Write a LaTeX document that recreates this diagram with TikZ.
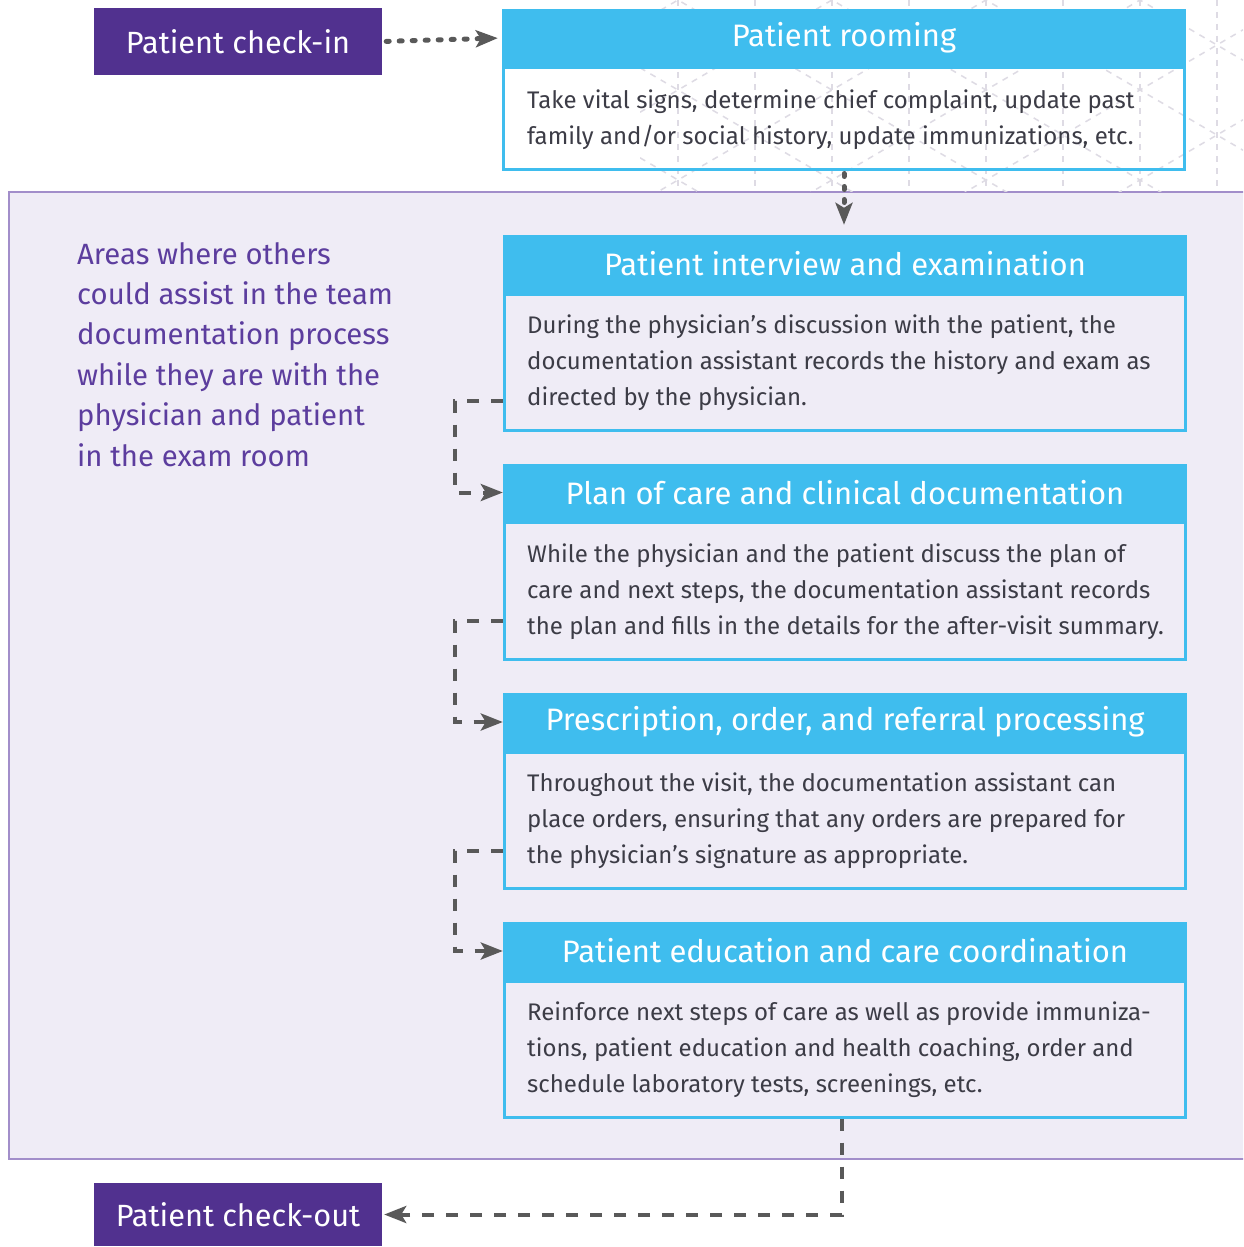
\documentclass[tikz,border=0pt]{standalone}
\usepackage{fontspec}
\setmainfont{Fira Sans}
\usetikzlibrary{arrows.meta,calc}
\definecolor{boxpurple}{HTML}{51318F}
\definecolor{hblue}{HTML}{3FBDEE}
\definecolor{regfill}{HTML}{EFECF6}
\definecolor{regline}{HTML}{A28ECA}
\definecolor{lefttext}{HTML}{5C3D9E}
\definecolor{bodytext}{HTML}{3C3C46}
\definecolor{cgray}{HTML}{595959}
\definecolor{patgray}{HTML}{DEDBE4}
\begin{document}
\begin{tikzpicture}[x=1pt,y=-1pt,
  endbox/.style={rectangle, fill=boxpurple, text=white, inner sep=0pt,
    minimum width=288pt, font=\fontsize{30.7}{36}\selectfont},
  headbox/.style={rectangle, fill=hblue, text=white, inner sep=0pt,
    minimum width=684pt, minimum height=58pt, font=\fontsize{31}{36}\selectfont},
  bodybox/.style={rectangle, draw=hblue, line width=3pt, inner sep=0pt,
    minimum width=681pt},
  bodytxt/.style={anchor=west, inner sep=0pt, align=left, text=bodytext,
    font=\fontsize{24}{36}\selectfont},
  conn/.style={draw=cgray, line width=4pt, dash pattern=on 12pt off 12pt,
    -{Stealth[length=22pt,width=17pt,inset=5pt]}},
  dotconn/.style={draw=cgray, line width=5pt, line cap=round, dash pattern=on 3pt off 10pt,
    -{Stealth[length=22pt,width=17pt,inset=5pt]}},
  pat/.style={draw=patgray, line width=1.5pt, dash pattern=on 6pt off 6pt}
]
\clip (0,0) rectangle (1243,1247);
\fill[white] (0,0) rectangle (1243,1247);

% exam-room region
\filldraw[fill=regfill, draw=regline, line width=2pt] (9,192) rectangle (1270,1159);

% rooming body background (white) and faint pattern
\fill[white] (502,67) rectangle (1186,170);
\begin{scope}
  \clip (640,0) rectangle (1243,191);
  \foreach \k in {0,...,8} {
    \draw[pat] ({1217-77*\k},0) -- ({1217-77*\k},192);
  }
  \foreach \n in {-5,...,2} {
    \draw[pat] (640,{756.3+90*\n-0.5845*640}) -- (1243,{756.3+90*\n-0.5845*1243});
  }
  \foreach \n in {-1,...,6} {
    \draw[pat] (640,{-666.3+90*\n+0.5845*640}) -- (1243,{-666.3+90*\n+0.5845*1243});
  }
\end{scope}

% end boxes
\node[endbox, minimum height=67pt] (checkin) at (238,41.5) {Patient check-in};
\node[endbox, minimum height=63pt] (checkout) at (238,1214.5) {Patient check-out};

% rooming
\node[headbox] (rhead) at (844,38) {Patient rooming};
\node[bodybox, minimum height=101pt] (rbody) at (844,118.5) {};
\node[bodytxt] (rtext) at (527,119.5) {Take vital signs, determine chief complaint, update past\\family and/or social history, update immunizations, etc.};

% interview
\node[headbox] (ihead) at (845,264) {Patient interview and examination};
\node[bodybox, minimum height=136pt] (ibody) at (845,362) {};
\node[bodytxt] (itext) at (527,363) {During the physician’s discussion with the patient, the\\documentation assistant records the history and exam as\\directed by the physician.};

% plan
\node[headbox] (phead) at (845,492.5) {Plan of care and clinical documentation};
\node[bodybox, minimum height=137pt] (pbody) at (845,590.5) {};
\node[bodytxt] (ptext) at (527,591.5) {While the physician and the patient discuss the plan of\\care and next steps, the documentation assistant records\\the plan and fills in the details for the after-visit summary.};

% prescription
\node[headbox] (xhead) at (845,722) {Prescription, order, and referral processing};
\node[bodybox, minimum height=136pt] (xbody) at (845,820) {};
\node[bodytxt] (xtext) at (527,821) {Throughout the visit, the documentation assistant can\\place orders, ensuring that any orders are prepared for\\the physician’s signature as appropriate.};

% education
\node[headbox] (ehead) at (845,951) {Patient education and care coordination};
\node[bodybox, minimum height=136pt] (ebody) at (845,1049) {};
\node[bodytxt] (etext) at (527,1050) {Reinforce next steps of care as well as provide immuniza-\\tions, patient education and health coaching, order and\\schedule laboratory tests, screenings, etc.};

% left note
\node[anchor=north west, inner sep=0pt, align=left, text=lefttext,
  font=\fontsize{29.3}{40.4}\selectfont] (note) at (77,242)
  {Areas where others\\could assist in the team\\documentation process\\while they are with the\\physician and patient\\in the exam room};

% connectors
\draw[dotconn, shorten <=4pt, shorten >=4pt] (checkin.east) -- (rhead.west);
\draw[dotconn, shorten <=3pt, shorten >=10pt] (rbody.south) -- (rbody.south |- ihead.north);
\draw[conn] ([yshift=31pt]ibody.south west) -- ++(-48,0) |- (phead.west);
\draw[conn] ([yshift=40pt]pbody.south west) -- ++(-48,0) |- (xhead.west);
\draw[conn] ([yshift=39pt]xbody.south west) -- ++(-48,0) |- (ehead.west);
\draw[conn, shorten >=2pt] ([xshift=-3pt]ebody.south) |- (checkout.east);
\end{tikzpicture}
\end{document}
